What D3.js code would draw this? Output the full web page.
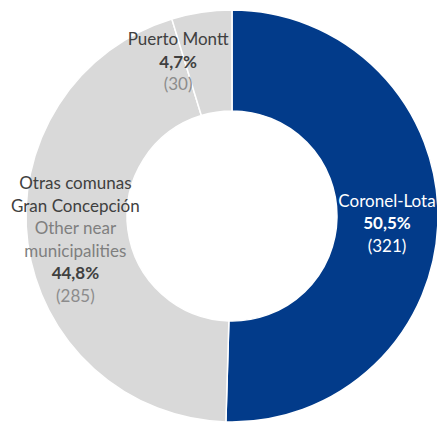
<!DOCTYPE html>
<html>
<head>
<meta charset="utf-8">
<script src="https://cdn.jsdelivr.net/npm/d3@7"></script>
<style>
  body { margin: 0; background: #fff; }
  svg { display: block; }
  text { font-family: Lato, "Open Sans", sans-serif; font-size: 17px; }
</style>
</head>
<body>
<div id="chart"></div>
<script>
const width = 437;
const height = 426;

// data
const categories = ["Coronel-Lota", "Otras comunas Gran Concepción", "Puerto Montt"];
const counts = [321, 285, 30];
const percentLabels = ["50,5%", "44,8%", "4,7%"];
const nameLines = [["Coronel-Lota"], ["Otras comunas", "Gran Concepción"], ["Puerto Montt"]];
const englishLines = [[], ["Other near", "municipalities"], []];

const colors = ["#023B8A", "#D9D9D9", "#D9D9D9"];
const cx = 232, cy = 216;
const outerR = 206, innerR = 105;

const data = categories.map((c, i) => ({
  name: c, count: counts[i], pct: percentLabels[i],
  lines: nameLines[i], eng: englishLines[i], color: colors[i]
}));

const svg = d3.select("#chart").append("svg")
  .attr("width", width)
  .attr("height", height);

const pie = d3.pie().value(d => d.count).sort(null);
const arc = d3.arc().innerRadius(innerR).outerRadius(outerR);
const labelArc = d3.arc().innerRadius(155).outerRadius(155);

const g = svg.append("g").attr("transform", `translate(${cx},${cy})`);

const arcs = pie(data);

g.selectAll("path")
  .data(arcs)
  .join("path")
    .attr("d", arc)
    .attr("fill", d => d.data.color)
    .attr("stroke", "#fff")
    .attr("stroke-width", 1.5);

// small nudges so the labels sit where the original has them
const offsets = [[0, 5], [-3, 3], [-31, -1]];
const lineH = 22.6;

arcs.forEach((a, i) => {
  const [x, y] = labelArc.centroid(a);
  const d = a.data;
  const white = i === 0;
  const rows = [];
  d.lines.forEach(t => rows.push({t, fill: white ? "#fff" : "#404040", weight: 400}));
  d.eng.forEach(t => rows.push({t, fill: "#7f7f7f", weight: 400}));
  rows.push({t: d.pct, fill: white ? "#fff" : "#404040", weight: 700});
  rows.push({t: `(${d.count})`, fill: white ? "#fff" : "#8c8c8c", weight: 400});

  const top = y + offsets[i][1] - (rows.length - 1) * lineH / 2;
  g.append("g")
    .selectAll("text")
    .data(rows)
    .join("text")
      .attr("x", x + offsets[i][0])
      .attr("y", (r, j) => top + j * lineH)
      .attr("dy", "0.35em")
      .attr("text-anchor", "middle")
      .attr("fill", r => r.fill)
      .attr("font-weight", r => r.weight)
      .text(r => r.t);
});
</script>
</body>
</html>
